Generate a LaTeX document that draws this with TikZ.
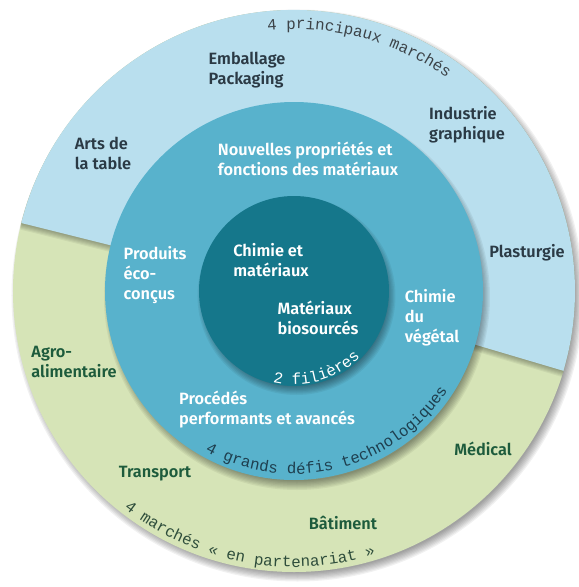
\documentclass[tikz,border=0pt]{standalone}
\usepackage{fontspec}
\setmainfont{Fira Sans}[BoldFont={Fira Sans SemiBold}]
\setmonofont{Liberation Mono}
\usetikzlibrary{decorations.text}

\definecolor{marketblue}{HTML}{B9DFEE}
\definecolor{marketgreen}{HTML}{D6E4B7}
\definecolor{challengeteal}{HTML}{58B2CC}
\definecolor{coreteal}{HTML}{15778B}
\definecolor{bluetext}{HTML}{2B3A45}
\definecolor{greentext}{HTML}{1D5B3C}
\definecolor{ringgray}{HTML}{3C4348}
\definecolor{ringdark}{HTML}{1E3F4F}
\definecolor{ringgreen}{HTML}{2E4D3B}

\newcommand\ringfont{\ttfamily\mdseries\fontsize{9}{9}\selectfont}

\begin{document}
\begin{tikzpicture}[
    font=\bfseries\fontsize{9.3}{11.4}\selectfont,
    market/.style={align=left, text=bluetext, inner sep=0pt},
    partner/.style={align=left, text=greentext, inner sep=0pt},
    inner label/.style={align=left, text=white, inner sep=0pt},
    ring text/.style={decorate, decoration={text along path, text color=#1}},
    soft/.style={black, opacity=0.055}
]
\useasboundingbox (-5.88,-5.92) rectangle (5.70,5.82);

% 1. OUTER RING: markets
\foreach \k in {0,...,7}
    \fill[soft] (0.07,-0.09) circle ({5.72-\k*0.025});
\fill[marketgreen] (0,0) circle (5.62);

% blue half casts a shadow on the green one
\begin{scope}
    \clip (0,0) circle (5.62);
    \foreach \k in {1,...,6}
        \fill[black, opacity=0.055, shift={(0.01*\k,-0.025*\k)}]
            (0,0) -- (166:5.7) arc[start angle=166, end angle=-16.5, radius=5.7] -- cycle;
\end{scope}
\fill[marketblue] (0,0) -- (166:5.62) arc[start angle=166, end angle=-16.5, radius=5.62] -- cycle;

% 2. MIDDLE RING: technological challenges
\foreach \k in {0,...,7}
    \fill[soft] (0.06,-0.12) circle ({3.86-\k*0.025});
\fill[challengeteal] (0,0) circle (3.78);

% 3. CORE: two sectors
\foreach \k in {0,...,7}
    \fill[soft] (0.05,-0.1) circle ({1.98-\k*0.025});
\fill[coreteal] (0,0) circle (1.9);

% Market labels
\node[market] (Packaging) at (-0.94, 4.42) {Emballage\\Packaging};
\node[market] (Graphic) at (3.46, 3.32) {Industrie\\graphique};
\node[market] (Tableware) at (-3.82, 2.76) {Arts de\\la table};
\node[market] (Plastics) at (4.66, 0.76) {Plasturgie};

\node[partner] (Agrifood) at (-4.40, -1.42) {Agro-\\alimentaire};
\node[partner] (Medical) at (3.78, -3.16) {Médical};
\node[partner] (Transport) at (-2.78, -3.66) {Transport};
\node[partner] (Building) at (0.98, -4.64) {Bâtiment};

% Challenge labels
\node[inner label] (Properties) at (0.28, 2.64) {Nouvelles propriétés et\\fonctions des matériaux};
\node[inner label] (EcoDesign) at (-2.78, 0.32) {Produits\\éco-\\conçus};
\node[inner label] (GreenChem) at (2.76, -0.54) {Chimie\\du\\végétal};
\node[inner label] (Processes) at (-0.54, -2.38) {Procédés\\performants et avancés};

% Sector labels
\node[inner label] (ChemMat) at (-0.46, 0.62) {Chimie et\\matériaux};
\node[inner label] (BioMat) at (0.48, -0.54) {Matériaux\\biosourcés};

% Ring titles
\path[ring text=ringgray, decoration={text={|\ringfont|4 principaux marchés}}]
    (95.8:5.24) arc[start angle=95.8, end angle=40, radius=5.24];
\path[ring text=ringgreen, decoration={text={|\ringfont|4 marchés « en partenariat »}}]
    (232:5.52) arc[start angle=232, end angle=300, radius=5.52];
\path[ring text=ringdark, decoration={text={|\ringfont|4 grands défis technologiques}}]
    (241:3.66) arc[start angle=241, end angle=345, radius=3.66];
\path[ring text=white, decoration={text={|\ringfont|2 filières}}]
    (257:1.87) arc[start angle=257, end angle=335, radius=1.87];

\end{tikzpicture}
\end{document}
